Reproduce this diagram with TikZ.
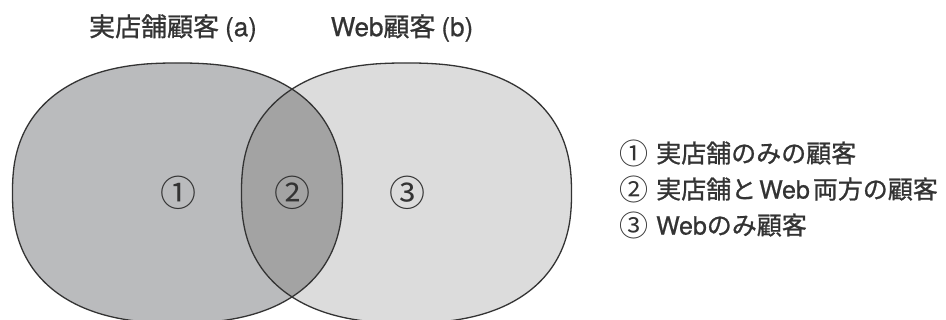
\documentclass[tikz,border=0pt]{standalone}
\usepackage{fontspec}
\setmainfont{Noto Sans CJK JP}[FakeBold=0.9]
\newfontfamily\jpf{Noto Sans CJK JP}[FakeBold=0.9]
\newfontfamily\latf{TeX Gyre Heros}[FakeBold=0.6]
\newfontfamily\circf{Noto Sans CJK JP}
\definecolor{gL}{HTML}{BABBBD}
\definecolor{gR}{HTML}{DCDCDC}
\definecolor{gM}{HTML}{A3A3A3}
\definecolor{ink}{HTML}{333333}
\newcommand{\lat}[1]{{\latf #1}}
\newcommand{\cnum}[2]{{\circf\fontsize{#2}{#2}\selectfont #1}}
\tikzset{
  shapeL/.style={insert path={plot[domain=0.5:360.5,samples=181,variable=\t,smooth]
    ({177.5+165*sign(cos(\t))*pow(abs(cos(\t)),0.8333)},{193+130*sign(sin(\t))*pow(abs(sin(\t)),0.8333)}) -- cycle}},
  shapeR/.style={insert path={plot[domain=0.5:360.5,samples=181,variable=\t,smooth]
    ({406.5+165*sign(cos(\t))*pow(abs(cos(\t)),0.8333)},{193+130*sign(sin(\t))*pow(abs(sin(\t)),0.8333)}) -- cycle}},
  outline/.style={draw=ink, line width=1.3pt},
  title/.style={text=ink, font=\jpf\fontsize{26}{30}\selectfont, inner sep=0pt},
  legend/.style={text=ink, font=\jpf\fontsize{25}{29}\selectfont, inner sep=0pt, anchor=west},
  num/.style={text=ink, inner sep=0pt}
}
\begin{document}
\begin{tikzpicture}[x=1pt,y=-1pt]
\useasboundingbox (0,0) rectangle (946,320);
\fill[gL, shapeL];
\fill[gR, shapeR];
\begin{scope}
  \path[clip, shapeL];
  \fill[gM, shapeR];
\end{scope}
\path[outline, shapeL];
\path[outline, shapeR];
\node[title] (ta) at (173,28) {実店舗顧客\hspace{6pt}\lat{(a)}};
\node[title] (tb) at (402,28) {\lat{Web}顧客\hspace{6pt}\lat{(b)}};
\node[num] (n1) at (178,193) {\cnum{①}{36}};
\node[num] (n2) at (292,193) {\cnum{②}{36}};
\node[num] (n3) at (407,193) {\cnum{③}{36}};
\node[legend] (l1) at (619,153) {\raisebox{-1.5pt}{\cnum{①}{29}}\hspace{8pt}実店舗のみの顧客};
\node[legend] (l2) at (619,189) {\raisebox{-1.5pt}{\cnum{②}{29}}\hspace{8pt}実店舗と\hspace{3pt}\lat{Web}\hspace{3pt}両方の顧客};
\node[legend] (l3) at (619,225) {\raisebox{-1.5pt}{\cnum{③}{29}}\hspace{8pt}\lat{Web}のみ顧客};
\end{tikzpicture}
\end{document}
